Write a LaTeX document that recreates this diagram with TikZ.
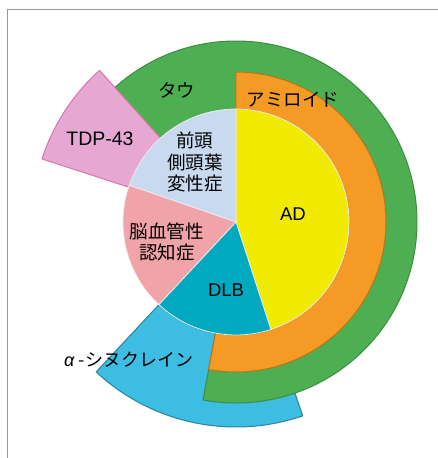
\documentclass[tikz,border=0pt]{standalone}
\usepackage{fontspec}
\setmainfont{Liberation Sans}
\newfontfamily\jp{Noto Sans CJK JP}
\definecolor{cAD}{HTML}{F0EB00}
\definecolor{cAmy}{HTML}{F59B25}
\definecolor{cTau}{HTML}{4DAF52}
\definecolor{cFT}{HTML}{C9DAF0}
\definecolor{cVas}{HTML}{F0A3A8}
\definecolor{cDLB}{HTML}{00A9BF}
\definecolor{cSyn}{HTML}{3CBDE1}
\definecolor{cTDP}{HTML}{E6A8D3}
\begin{document}
\begin{tikzpicture}[x=1pt,y=1pt,
  ring/.style={line width=1pt,line join=round},
  slice/.style={draw=white!85!gray,line width=0.8pt,line join=round},
  lab/.style={inner sep=0pt,text=black},
  jlab/.style={lab,font=\jp\fontsize{18.5}{21.5}\selectfont,align=center},
  elab/.style={lab,font=\fontsize{18.5}{22}\selectfont}]
\useasboundingbox (-236,-236) rectangle (202,222);
\fill[white] (-236,-236) rectangle (202,222);
\draw[gray!80,line width=0.8pt] (-229,-240) -- (-229,213) -- (206,213);
% alpha-synuclein
\fill[cSyn,draw=cSyn!70!black,ring] (227:113pt) arc[start angle=227,end angle=289,radius=113pt] -- (289:205pt) arc[start angle=289,end angle=227,radius=205pt] -- cycle;
% tau
\fill[cTau,draw=cTau!80!black,ring] (-100.5:113pt) arc[start angle=-100.5,end angle=133,radius=113pt] -- (133:181pt) arc[start angle=133,end angle=-100.5,radius=181pt] -- cycle;
% TDP-43
\fill[cTDP,draw=cTDP!70!purple,ring] (132:113pt) arc[start angle=132,end angle=162,radius=113pt] -- (162:204pt) arc[start angle=162,end angle=132,radius=204pt] -- cycle;
% amyloid
\fill[cAmy,draw=cAmy!75!black,ring] (-100.5:113pt) arc[start angle=-100.5,end angle=90,radius=113pt] -- (90:150pt) arc[start angle=90,end angle=-100.5,radius=150pt] -- cycle;
% inner pie
\fill[cAD,slice] (0,0) -- (-72:113pt) arc[start angle=-72,end angle=90,radius=113pt] -- cycle;
\fill[cFT,slice] (0,0) -- (90:113pt) arc[start angle=90,end angle=161,radius=113pt] -- cycle;
\fill[cVas,slice] (0,0) -- (161:113pt) arc[start angle=161,end angle=227,radius=113pt] -- cycle;
\fill[cDLB,slice] (0,0) -- (227:113pt) arc[start angle=227,end angle=288,radius=113pt] -- cycle;
% labels
\node[jlab] (tau) at (-59,132) {タウ};
\node[jlab] (amy) at (57,122) {アミロイド};
\node[elab,font=\fontsize{19.5}{22}\selectfont] (tdp) at (-136,83) {TDP-43};
\node[jlab] (ftld) at (-41,60) {前頭\\側頭葉\\変性症};
\node[jlab] (vas) at (-69,-20) {脳血管性\\認知症};
\node[elab] (ad) at (57,8) {AD};
\node[elab] (dlb) at (-10,-68) {DLB};
\node[jlab,font=\jp\fontsize{18}{21.5}\selectfont] (syn) at (-107,-138) {{\fontspec{Liberation Sans}\itshape α}\kern4pt-\kern1pt シヌクレイン};
\end{tikzpicture}
\end{document}
